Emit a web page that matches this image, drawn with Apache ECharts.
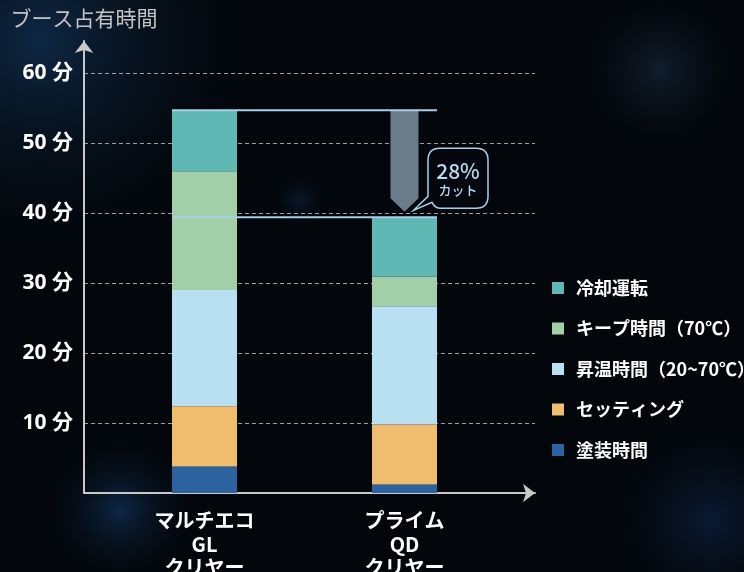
<!DOCTYPE html>
<html>
<head>
<meta charset="utf-8">
<script src="https://cdn.jsdelivr.net/npm/echarts@6/dist/echarts.min.js"></script>
<style>
  html, body { margin: 0; padding: 0; background: #03070c; }
  #chart { width: 744px; height: 572px; }
</style>
</head>
<body>
<div id="chart"></div>
<script>
// categories and their slot on the x axis
const categories = ["マルチエコ\nGL\nクリヤー", "プライム\nQD\nクリヤー"];
const categoryPos = [1, 2];

// minutes per stage, bottom to top
const paintTime = [3.8, 1.2];
const settingTime = [8.6, 8.6];
const heatUpTime = [16.6, 16.9];
const keepTime = [17.0, 4.2];
const coolingTime = [8.7, 8.5];

const stageNames = ["塗装時間", "セッティング", "昇温時間（20~70℃）", "キープ時間（70℃）", "冷却運転"];
const stageColors = ["#2d62a1", "#f0bd6f", "#b9dff2", "#a2cea8", "#5fb8b4"];
const yTicks = [10, 20, 30, 40, 50, 60];

const stages = [paintTime, settingTime, heatUpTime, keepTime, coolingTime];
const totals = categoryPos.map((_, i) => stages.reduce((s, arr) => s + arr[i], 0));
const cutPct = Math.round((1 - totals[1] / totals[0]) * 100);

const FONT = "'Noto Sans CJK JP', 'Noto Sans', sans-serif";
const NUM_FONT = "'Open Sans', 'Noto Sans CJK JP', sans-serif";
const chart = echarts.init(document.getElementById("chart"));

// soft glow used for the dark background
function glow(cx, cy, rx, ry, color) {
  return {
    type: "ellipse",
    z: -10,
    silent: true,
    shape: { cx: cx, cy: cy, rx: rx, ry: ry },
    style: {
      fill: {
        type: "radial", x: 0.5, y: 0.5, r: 0.5,
        colorStops: [
          { offset: 0, color: color },
          { offset: 1, color: "rgba(3,7,12,0)" },
        ],
      },
    },
  };
}

// value first so the stack runs on y, x slot second
const barSeries = stages.map((arr, k) => ({
  name: stageNames[k],
  type: "bar",
  stack: "total",
  barWidth: 65,
  encode: { x: 1, y: 0 },
  itemStyle: { color: stageColors[k] },
  data: categoryPos.map((x, i) => [arr[i], x]),
  z: 2,
}));

// reduction arrow, guide lines and the callout bubble
const annotation = {
  type: "custom",
  z: 5,
  clip: false,
  silent: true,
  data: [[categoryPos[1], totals[1]]],
  renderItem: function (params, api) {
    const c1 = api.coord([categoryPos[0], totals[0]]);
    const c2 = api.coord([categoryPos[1], totals[1]]);
    const half = 32.5;
    const cx = c2[0];
    const y1 = c1[1];
    const y2 = c2[1];
    const lineStyle = { stroke: "#a9cfe6", lineWidth: 2 };

    const L = cx + 23.5, R = cx + 83.5, T = y2 - 69, B = y2 - 9, r = 12;
    const tipX = cx + 9, tipY = y2 - 7;
    const bubble =
      "M" + (L + r) + " " + T +
      " L" + (R - r) + " " + T +
      " Q" + R + " " + T + " " + R + " " + (T + r) +
      " L" + R + " " + (B - r) +
      " Q" + R + " " + B + " " + (R - r) + " " + B +
      " L" + (L + 13) + " " + B +
      " Q" + (L + 7) + " " + B + " " + (L + 4) + " " + (B - 6) +
      " L" + tipX + " " + tipY +
      " L" + L + " " + (B - 12) +
      " L" + L + " " + (T + r) +
      " Q" + L + " " + T + " " + (L + r) + " " + T + " Z";

    return {
      type: "group",
      children: [
        {
          type: "polygon",
          shape: {
            points: [
              [cx - 14, y1], [cx + 14, y1], [cx + 14, y2 - 19],
              [cx, y2 - 5.5], [cx - 14, y2 - 19],
            ],
          },
          style: { fill: "#6a7b89" },
        },
        {
          type: "line",
          shape: { x1: c1[0] - half, y1: y1, x2: cx + half, y2: y1 },
          style: lineStyle,
        },
        {
          type: "line",
          shape: { x1: c1[0] - half, y1: y2, x2: cx + half, y2: y2 },
          style: lineStyle,
        },
        {
          type: "path",
          shape: { pathData: bubble },
          style: { fill: "rgba(4,8,14,0.92)", stroke: "#a9cfe6", lineWidth: 1.5 },
        },
        {
          type: "text",
          style: {
            text: cutPct + "%",
            x: (L + R) / 2, y: y2 - 46,
            align: "center", verticalAlign: "middle",
            fill: "#b8d8ee", font: "500 21px " + FONT,
          },
        },
        {
          type: "text",
          style: {
            text: "カット",
            x: (L + R) / 2, y: y2 - 27,
            align: "center", verticalAlign: "middle",
            fill: "#b8d8ee", font: "500 13px " + FONT,
          },
        },
      ],
    };
  },
};

const axisLineStyle = { color: "#c8c8c8", width: 2 };

chart.setOption({
  backgroundColor: "#03070c",
  animation: false,
  textStyle: { fontFamily: FONT },
  graphic: [
    glow(40, 40, 300, 230, "rgba(16,44,76,0.9)"),
    glow(120, 510, 80, 150, "rgba(18,52,95,0.7)"),
    glow(300, 200, 30, 170, "rgba(18,48,88,0.4)"),
    glow(660, 70, 160, 90, "rgba(28,48,72,0.55)"),
    glow(710, 520, 120, 110, "rgba(14,40,78,0.6)"),
  ],
  grid: { left: 84, right: 209, top: 41, bottom: 79, outerBoundsMode: "none", containLabel: false },
  legend: {
    orient: "vertical",
    left: 552,
    top: 279,
    padding: 0,
    itemWidth: 12,
    itemHeight: 12,
    itemGap: 22.5,
    icon: "rect",
    data: stageNames.slice().reverse(),
    textStyle: {
      color: "#ffffff",
      fontSize: 18,
      fontWeight: "bold",
      fontFamily: FONT,
      padding: [0, 0, 0, 7],
    },
  },
  xAxis: {
    type: "value",
    min: 0.3975,
    max: 2.6525,
    axisLine: {
      show: true,
      onZero: false,
      symbol: ["none", "arrow"],
      symbolSize: [14, 12],
      lineStyle: axisLineStyle,
    },
    axisTick: { show: false },
    splitLine: { show: false },
    axisLabel: {
      customValues: categoryPos,
      formatter: function (v) {
        const i = categoryPos.indexOf(v);
        return i >= 0 ? categories[i] : "";
      },
      color: "#ffffff",
      fontSize: 20,
      fontWeight: "bold",
      lineHeight: 23.5,
      margin: 16,
      fontFamily: FONT,
    },
  },
  yAxis: {
    type: "value",
    min: 0,
    max: 64.6,
    interval: 10,
    name: "ブース占有時間",
    nameLocation: "end",
    nameGap: 12,
    nameTextStyle: { color: "#c4c4c4", fontSize: 21, fontFamily: FONT },
    axisLine: {
      show: true,
      onZero: false,
      symbol: ["none", "arrow"],
      symbolSize: [14, 12],
      lineStyle: axisLineStyle,
    },
    axisTick: { show: false },
    axisLabel: {
      formatter: function (v) {
        return yTicks.indexOf(v) >= 0 ? v + " 分" : "";
      },
      color: "#ffffff",
      fontSize: 21,
      fontWeight: "bold",
      margin: 11,
      fontFamily: NUM_FONT,
    },
    splitLine: {
      show: true,
      showMinLine: false,
      showMaxLine: false,
      lineStyle: { type: [4, 3], color: "rgba(210,210,210,0.75)", width: 1 },
    },
  },
  series: barSeries.concat([annotation]),
});
</script>
</body>
</html>
